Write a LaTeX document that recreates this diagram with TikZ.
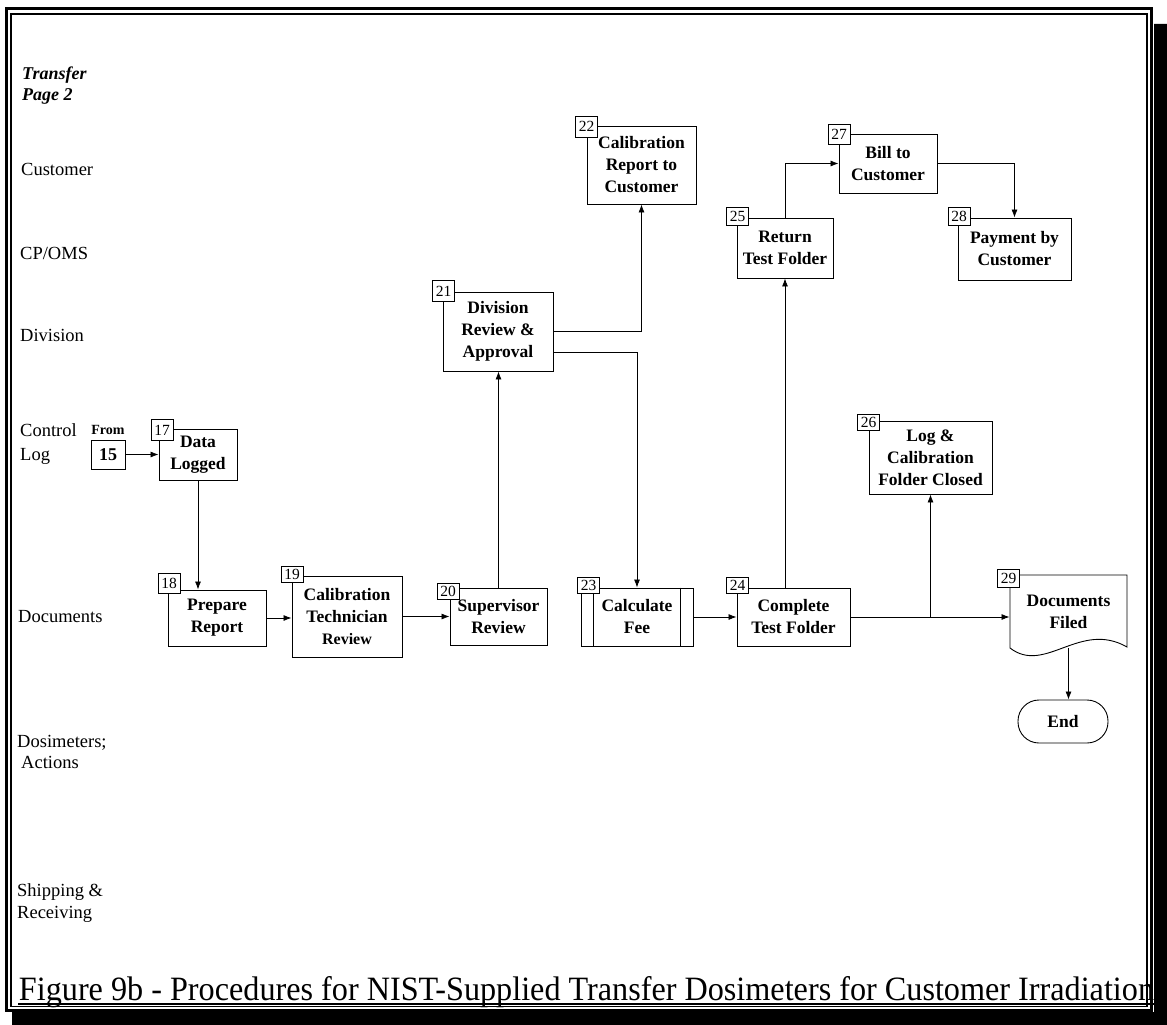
\documentclass[tikz,border=0pt]{standalone}
\usepackage{fontspec}
\setmainfont{Liberation Serif}
\usetikzlibrary{arrows.meta,calc}
\begin{document}
\begin{tikzpicture}[x=1pt,y=-1pt,
 proc/.style={draw, line width=0.9pt, inner sep=0pt, align=center, font=\bfseries\fontsize{17.5}{22}\selectfont},
 numlab/.style={draw, fill=white, line width=0.8pt, inner sep=0pt, font=\fontsize{15.5}{16}\selectfont, minimum width=22pt, minimum height=17pt},
 lane/.style={anchor=base west, inner sep=0pt, font=\fontsize{18.5}{20}\selectfont},
 arr/.style={line width=0.8pt, -{Latex[length=8pt,width=6pt]}},
 ln/.style={line width=0.8pt}]
\useasboundingbox (0,0) rectangle (1167,1025);
% frame
\fill[black] (1154,24) -- (1167,24) -- (1167,1025) -- (12,1025) -- (12,1012) -- (1154,1012) -- cycle;
\draw[line width=3pt] (6,8.5) rectangle (1151.5,1010);
\draw[line width=1.2pt] (11,14) rectangle (1147,1006.5);
% lane labels
\node[lane, font=\bfseries\itshape\fontsize{18}{20}\selectfont] (tr1) at (22,80) {Transfer};
\node[lane, font=\bfseries\itshape\fontsize{18}{20}\selectfont] (tr2) at (22,100) {Page 2};
\node[lane] (lcust) at (21,175) {Customer};
\node[lane] (lcp) at (20,259) {CP/OMS};
\node[lane] (ldiv) at (20,341) {Division};
\node[lane] (lctl1) at (20,436) {Control};
\node[lane] (lctl2) at (20,460) {Log};
\node[lane] (ldoc) at (18,622) {Documents};
\node[lane] (ldos1) at (17,747) {Dosimeters;};
\node[lane] (ldos2) at (21,768) {Actions};
\node[lane] (lship1) at (17,896) {Shipping \&};
\node[lane] (lship2) at (17,918) {Receiving};
% process boxes
\node[proc, minimum width=34pt, minimum height=29pt, font=\bfseries\fontsize{18}{20}\selectfont] (n15) at (108,454.5) {15};
\node[inner sep=0pt, font=\bfseries\fontsize{14}{16}\selectfont] (from) at (108,430) {From};
\node[proc, minimum width=78pt, minimum height=51pt] (n17) at (198,454.5) {Data\\Logged};
\node[proc, minimum width=98pt, minimum height=56pt] (n18) at (217,618) {Prepare\\Report};
\node[proc, minimum width=110pt, minimum height=81pt] (n19) at (347,616.5) {Calibration\\Technician\\{\fontsize{16}{22}\selectfont Review}};
\node[proc, minimum width=97pt, minimum height=57pt] (n20) at (498.5,616.5) {Supervisor\\Review};
\node[proc, minimum width=110pt, minimum height=79pt] (n21) at (498,331.5) {Division\\Review \&\\Approval};
\node[proc, minimum width=109pt, minimum height=78pt] (n22) at (641.5,165) {Calibration\\Report to\\Customer};
\node[proc, minimum width=112pt, minimum height=58pt] (n23) at (637,617) {Calculate\\Fee};
\draw[ln] ([xshift=13pt]n23.north west) -- ([xshift=13pt]n23.south west);
\draw[ln] ([xshift=-13pt]n23.north east) -- ([xshift=-13pt]n23.south east);
\node[proc, minimum width=113pt, minimum height=58pt] (n24) at (793.5,617) {Complete\\Test Folder};
\node[proc, minimum width=96pt, minimum height=60pt] (n25) at (785,248) {Return\\Test Folder};
\node[proc, minimum width=123pt, minimum height=73pt] (n26) at (930.5,457.5) {Log \&\\Calibration\\Folder Closed};
\node[proc, minimum width=98pt, minimum height=59pt] (n27) at (888,163.5) {Bill to\\Customer};
\node[proc, minimum width=113pt, minimum height=62pt] (n28) at (1014.5,249) {Payment by\\Customer};
\draw[line width=0.9pt] (1010,575) -- (1127,575) -- (1127,647) .. controls (1080,620) and (1045,675) .. (1010,648) -- cycle;
\node[proc, draw=none, minimum width=117pt, minimum height=73pt] (n29) at (1068.5,611.5) {Documents\\Filed};
\node[proc, minimum width=90pt, minimum height=43pt, rounded corners=21pt] (nend) at (1063,721.5) {End};
% connectors
\draw[arr] (n15.east) -- (n17.west);
\draw[arr] (n17.south) -- (n17.south |- n18.north);
\draw[arr] (n18.east) -- (n18.east -| n19.west);
\draw[arr] (n19.east) -- (n19.east -| n20.west);
\draw[arr] (n20.north) -- (n20.north |- n21.south);
\draw[arr] (n21.east) -| (n22.south);
\draw[arr] ([yshift=-20.5pt]n21.east) -| (n23.north);
\draw[arr] (n23.east) -- (n24.west);
\draw[arr] (n25.south |- n24.north) -- (n25.south);
\draw[arr] (n25.north) |- (n27.west);
\draw[arr] (n27.east) -| (n28.north);
\draw[arr] (n24.east) -- (n24.east -| n29.west);
\draw[arr] (n26.south |- n24.east) -- (n26.south);
\draw[arr] (n29.south) -- (n29.south |- nend.north);
% number labels
\node[numlab, minimum height=21pt] (l17) at (162,430) {17};
\node[numlab, minimum height=20pt] (l18) at (169,583) {18};
\node[numlab, minimum height=16pt] (l19) at (292,574.5) {19};
\node[numlab, minimum height=16pt] (l20) at (448,591) {20};
\node[numlab, minimum height=21pt] (l21) at (443.5,291) {21};
\node[numlab, minimum height=21pt] (l22) at (586.5,126.5) {22};
\node[numlab, minimum height=16pt] (l23) at (588.5,585.5) {23};
\node[numlab, minimum height=16pt] (l24) at (737.5,585.5) {24};
\node[numlab, minimum height=18pt] (l25) at (737.5,216.5) {25};
\node[numlab, minimum height=16pt] (l26) at (868.5,422) {26};
\node[numlab, minimum height=20pt] (l27) at (839,134) {27};
\node[numlab, minimum height=18pt] (l28) at (959,216.5) {28};
\node[numlab, minimum height=18pt] (l29) at (1008.5,578.5) {29};
% caption
\node[anchor=base, inner sep=0pt] (cap) at (586.5,1000) {\resizebox{1135pt}{24pt}{Figure 9b - Procedures for NIST-Supplied Transfer Dosimeters for Customer Irradiation}};
\draw[line width=1.2pt] (18,1004) -- (1155,1004);
\end{tikzpicture}
\end{document}
